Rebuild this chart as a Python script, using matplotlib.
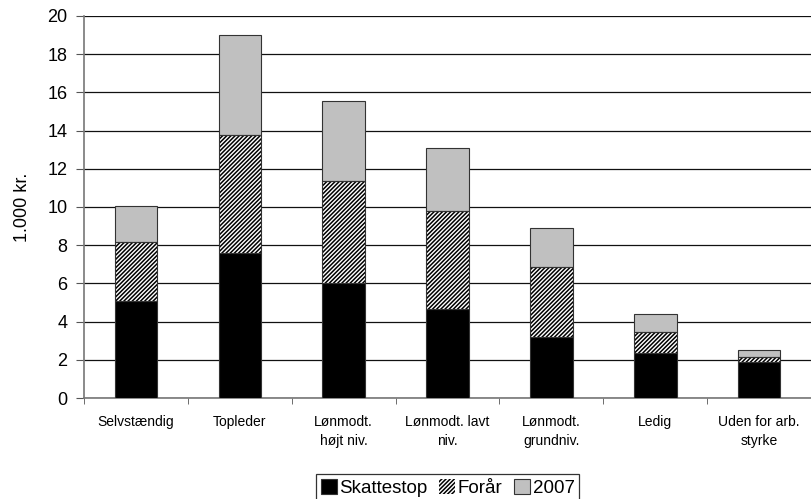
import numpy as np
import matplotlib
matplotlib.use("Agg")
import matplotlib.pyplot as plt

plt.rcParams["font.family"] = ["Liberation Sans", "DejaVu Sans"]
plt.rcParams["hatch.linewidth"] = 1.1

categories = ["Selvstændig", "Topleder", "Lønmodt.\nhøjt niv.", "Lønmodt. lavt\nniv.",
              "Lønmodt.\ngrundniv.", "Ledig", "Uden for arb.\nstyrke"]
skattestop = [5.1, 7.57, 6.0, 4.68, 3.21, 2.37, 1.87]
foraar = [3.05, 6.18, 5.34, 5.09, 3.63, 1.07, 0.29]
aar2007 = [1.9, 5.25, 4.2, 3.33, 2.06, 0.96, 0.34]

fig = plt.figure(figsize=(8.11, 4.99), dpi=100)
ax = fig.add_axes([0.1036, 0.2024, 0.8964, 0.7656])

x = np.arange(len(categories))
w = 0.41
edge = "#333333"
b1 = ax.bar(x, skattestop, w, color="black", edgecolor=edge, linewidth=0.8, label="Skattestop", zorder=3)
b2 = ax.bar(x, foraar, w, bottom=skattestop, color="white", edgecolor="black", hatch="////////",
            linewidth=0, label="Forår", zorder=3)
ax.bar(x, foraar, w, bottom=skattestop, fill=False, edgecolor=edge, linewidth=0.8, zorder=4)
bottom2 = np.array(skattestop) + np.array(foraar)
b3 = ax.bar(x, aar2007, w, bottom=bottom2, color="#c0c0c0", edgecolor=edge, linewidth=0.8,
            label="2007", zorder=3)

ax.set_xlim(-0.5, len(categories) - 0.5)
ax.set_ylim(0, 20)
ax.set_yticks(range(0, 21, 2))
ax.yaxis.grid(True, color="#111111", linewidth=0.9, zorder=0)
ax.set_axisbelow(True)

ax.set_xticks(x)
ax.set_xticklabels(categories, fontsize=10, linespacing=1.5)
ax.set_xticks(np.arange(len(categories) + 1) - 0.5, minor=True)
ax.tick_params(axis="x", which="major", length=0, pad=12)
ax.tick_params(axis="x", which="minor", length=4, color="#555555")
ax.tick_params(axis="y", labelsize=13, length=6, color="#555555", pad=6)

for s in ["top", "right"]:
    ax.spines[s].set_visible(False)
for s in ["left", "bottom"]:
    ax.spines[s].set_color("#777777")
    ax.spines[s].set_linewidth(1.2)

ax.set_ylabel("1.000 kr.", fontsize=13, labelpad=12)

leg = fig.legend(handles=[b1, b2, b3], loc="lower center", bbox_to_anchor=(0.552, -0.005),
                 ncol=3, fontsize=13.5, frameon=True, fancybox=False, edgecolor="black",
                 handlelength=0.85, handleheight=0.85, handletextpad=0.15, columnspacing=0.6,
                 borderpad=0.25, borderaxespad=0)
leg.get_frame().set_linewidth(0.9)

fig.savefig("out.png", dpi=100)
